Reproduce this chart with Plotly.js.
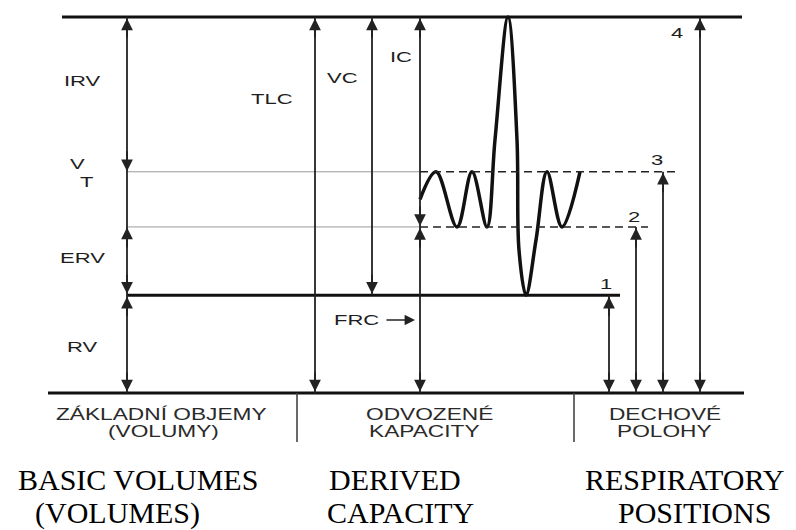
<!DOCTYPE html>
<html>
<head>
<meta charset="utf-8">
<script src="https://cdn.plot.ly/plotly-3.0.1.min.js"></script>
<style>
  html, body { margin: 0; padding: 0; background: #fff; }
  #chart { width: 796px; height: 530px; }
  /* the sans labels of the original diagram use a wide (extended) face */
  text.annotation-text[style*="Sans"] {
    transform-box: fill-box;
    transform-origin: center;
    transform: scaleX(1.42);
  }
</style>
</head>
<body>
<div id="chart"></div>
<script>
// ---- lung volume levels (mL) ----
const RV  = 1560;   // residual volume level
const FRC = 2650;   // functional residual capacity (end-expiratory level)
const EIV = 3530;   // end-inspiratory level of quiet breathing
const TLC = 6000;   // total lung capacity

// ---- spirogram trace: time (arbitrary units) and volume (mL) ----
const waveT = [420, 436, 457, 472, 487, 495, 508, 517, 519, 526, 536, 547, 562, 580];
const waveV = [3090, 3530, 2650, 3530, 2650, 4040, 6000, 4040, 2280, 1560, 2440, 3530, 2650, 3530];

// ---- text ----
const volumeLabels   = ['IRV', 'V', 'T', 'ERV', 'RV'];
const capacityLabels = ['TLC', 'VC', 'IC', 'FRC'];
const positionLabels = ['1', '2', '3', '4'];
const czechLabels    = ['ZÁKLADNÍ OBJEMY', '(VOLUMY)', 'ODVOZENÉ', 'KAPACITY', 'DECHOVÉ', 'POLOHY'];
const englishLabels  = ['BASIC VOLUMES', '(VOLUMES)', 'DERIVED', 'CAPACITY', 'RESPIRATORY', 'POSITIONS'];

// ---- drawing helpers ----
const W = 796, H = 530;
const k = TLC / 376;               // mL per pixel of the drawing
const P = py => 1 - py / H;        // pixel row -> paper fraction
const DARK = '#222';

const shapes = [];
function hline(x0, x1, y, w, color, dash) {
  shapes.push({type: 'line', xref: 'x', yref: 'y', x0: x0, x1: x1, y0: y, y1: y,
               line: {width: w, color: color, dash: dash || 'solid'}});
}
function vline(x, y0, y1, w) {
  shapes.push({type: 'line', xref: 'x', yref: 'y', x0: x, x1: x, y0: y0, y1: y1,
               line: {width: w || 1.8, color: DARK}});
}
// horizontal levels
hline(62, 742, TLC, 3, '#111');
hline(48, 744, 0, 3, '#111');
hline(127, 620, RV, 3, '#111');
hline(127, 420, EIV, 1, '#9a9a9a');
hline(127, 420, FRC, 1, '#9a9a9a');
hline(420, 680, EIV, 1.6, '#222', '8px,5px');
hline(420, 648, FRC, 1.6, '#222', '8px,5px');
// vertical measuring lines
vline(127, 0, TLC);
vline(315, 0, TLC);
vline(372, RV, TLC);
vline(420, 0, TLC);
vline(609, 0, RV);
vline(636, 0, FRC);
vline(663, 0, EIV);
vline(700, 0, TLC);
// dividers of the bottom legend
[297, 574].forEach(x => shapes.push({type: 'line', xref: 'x', yref: 'paper', x0: x, x1: x,
  y0: P(393), y1: P(442), line: {width: 1.6, color: '#444'}}));

const annotations = [];
function head(x, y, dir, standoff) {
  annotations.push({x: x, y: y, xref: 'x', yref: 'y', ax: 0, ay: dir === 'up' ? 22 : -22,
    text: '', showarrow: true, arrowhead: 2, arrowsize: 1.3, arrowwidth: 1.8,
    arrowcolor: DARK, standoff: standoff || 0});
}
// heads at x=127 (IRV, ERV, RV)
head(127, TLC, 'up', 1.5); head(127, EIV, 'down', 0.5);
head(127, FRC, 'up', 0.5); head(127, RV, 'down', 1.5);
head(127, RV, 'up', 1.5);  head(127, 0, 'down', 1.5);
// TLC, VC, IC/FRC
head(315, TLC, 'up', 1.5); head(315, 0, 'down', 1.5);
head(372, TLC, 'up', 1.5); head(372, RV, 'down', 1.5);
head(420, TLC, 'up', 1.5); head(420, FRC, 'down', 1);
head(420, FRC, 'up', 1);   head(420, 0, 'down', 1.5);
// respiratory positions 1-4
head(609, RV, 'up', 1.5);  head(609, 0, 'down', 1.5);
head(636, FRC, 'up', 1);   head(636, 0, 'down', 1.5);
head(663, EIV, 'up', 1);   head(663, 0, 'down', 1.5);
head(700, TLC, 'up', 1.5); head(700, 0, 'down', 1.5);
// FRC pointer
annotations.push({x: 415, y: P(320), xref: 'x', yref: 'paper', ax: -30, ay: 0, text: '',
  showarrow: true, arrowhead: 2, arrowsize: 1.3, arrowwidth: 1.6, arrowcolor: DARK});

function label(text, x, py, font) {
  annotations.push({x: x, y: P(py), xref: 'x', yref: 'paper', text: text, showarrow: false,
    xanchor: 'center', yanchor: 'middle', font: font});
}
const sans  = {family: 'Liberation Sans', size: 15.5, color: '#1e1e1e'};
const sansB = {family: 'Liberation Sans', size: 16, color: '#2a2a2a'};
const serif = {family: 'Liberation Serif', size: 30, color: '#000'};

const volPos = [[82, 81], [77, 163], [87, 182], [82, 257], [82, 346]];
volumeLabels.forEach((t, i) => label(t, volPos[i][0], volPos[i][1], sans));
const capPos = [[272, 99], [342, 78], [401, 57], [356, 319]];
capacityLabels.forEach((t, i) => label(t, capPos[i][0], capPos[i][1], sans));
const posPos = [[606, 283], [634, 216], [657, 159], [677, 33]];
positionLabels.forEach((t, i) => label(t, posPos[i][0], posPos[i][1], sans));
const czPos = [[161, 414], [163.5, 430.5], [429, 414], [424, 430.5], [665, 414], [664.5, 430.5]];
czechLabels.forEach((t, i) => label(t, czPos[i][0], czPos[i][1], sansB));
const enPos = [[138, 479], [117, 512.5], [395, 479], [400, 512.5], [685, 479], [694, 512.5]];
englishLabels.forEach((t, i) => label(t, enPos[i][0], enPos[i][1], serif));

const traces = [{
  x: waveT, y: waveV, type: 'scatter', mode: 'lines',
  line: {shape: 'spline', smoothing: 1, width: 3.5, color: '#111'},
  hoverinfo: 'skip', cliponaxis: false
}];

const layout = {
  width: W, height: H,
  margin: {l: 0, r: 0, t: 0, b: 0, pad: 0},
  paper_bgcolor: '#fff', plot_bgcolor: '#fff',
  showlegend: false,
  xaxis: {range: [0, W], visible: false, fixedrange: true},
  yaxis: {range: [(393 - H) * k, 393 * k], visible: false, fixedrange: true},
  shapes: shapes,
  annotations: annotations
};

Plotly.newPlot('chart', traces, layout, {displayModeBar: false, staticPlot: true});
</script>
</body>
</html>
